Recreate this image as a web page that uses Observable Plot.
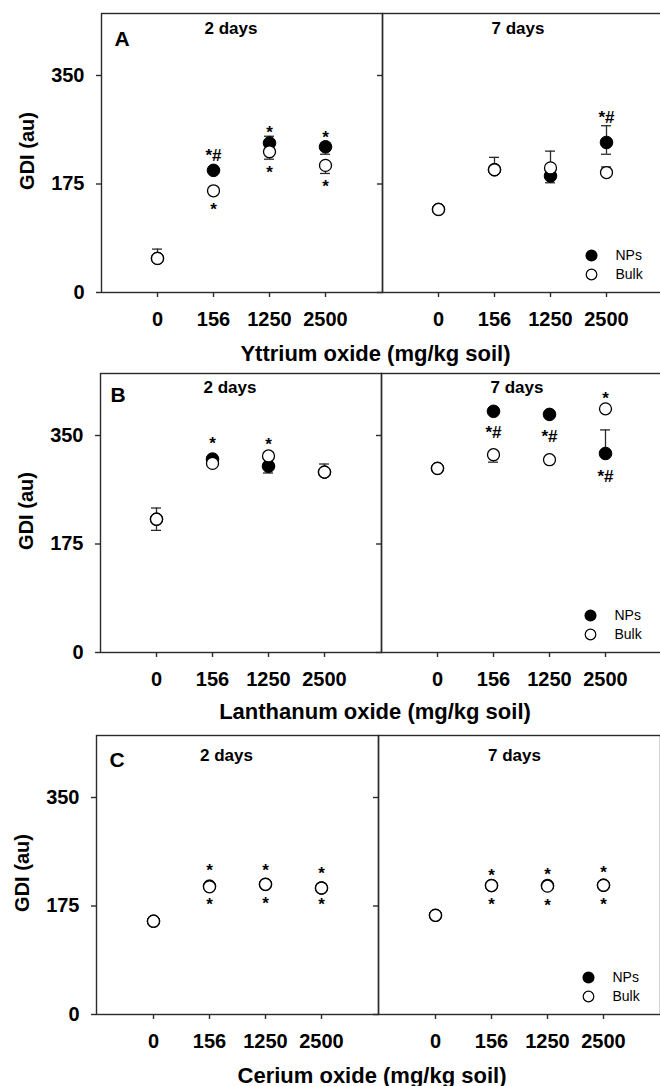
<!DOCTYPE html>
<html><head><meta charset="utf-8">
<script src="https://cdn.jsdelivr.net/npm/d3@7"></script>
<script src="https://cdn.jsdelivr.net/npm/@observablehq/plot@0.6"></script>
<style>
html,body{margin:0;padding:0;overflow:hidden;background:#fff;width:660px;height:1086px;position:relative;font-family:"Liberation Sans",Arial,sans-serif;}
.panel{position:absolute;left:0;}
.xtitle{position:absolute;text-align:center;font-weight:bold;font-size:22px;line-height:30px;color:#000;white-space:nowrap;}
</style></head><body>
<script>
// ---- categories / labels ----
const doses = ["0", "156", "1250", "2500"];
const days = ["2 days", "7 days"];
const series = ["NPs", "Bulk"];
const panelLetters = ["A", "B", "C"];
const xTitles = ["Yttrium oxide (mg/kg soil)", "Lanthanum oxide (mg/kg soil)", "Cerium oxide (mg/kg soil)"];
const yTicks = [0, 175, 350];
const yLabel = "GDI (au)";

// ---- Panel A: Yttrium oxide (GDI mean, error bars as [up, down]) ----
const A_NPs_2d = [55, 197, 241, 235];
const A_NPs_2d_err = [[0, 0], [0, 0], [11, 0], [0, 12]];
const A_Bulk_2d = [55, 164, 227, 205];
const A_Bulk_2d_err = [[15, 0], [0, 3], [0, 12], [0, 13]];
const A_NPs_7d = [134, 198, 188, 242];
const A_NPs_7d_err = [[0, 0], [0, 0], [0, 11], [27, 19]];
const A_Bulk_7d = [134, 198, 201, 193.5];
const A_Bulk_7d_err = [[0, 0], [20, 0], [27, 0], [9, 0]];
const A_notes = [
  ["2 days", "156", "*#", 227], ["2 days", "156", "*", 141],
  ["2 days", "1250", "*", 264], ["2 days", "1250", "*", 200],
  ["2 days", "2500", "*", 257], ["2 days", "2500", "*", 178],
  ["7 days", "2500", "*#", 289]
];

// ---- Panel B: Lanthanum oxide ----
const B_NPs_2d = [215, 312, 300.5, 291];
const B_NPs_2d_err = [[0, 0], [0, 0], [0, 11], [0, 0]];
const B_Bulk_2d = [215, 305, 317, 291];
const B_Bulk_2d_err = [[18, 18], [0, 0], [0, 0], [13, 0]];
const B_NPs_7d = [297, 389, 384, 321];
const B_NPs_7d_err = [[0, 0], [0, 0], [0, 0], [38, 0]];
const B_Bulk_7d = [297, 319, 311, 393];
const B_Bulk_7d_err = [[0, 0], [0, 12], [0, 0], [0, 0]];
const B_notes = [
  ["2 days", "156", "*", 344], ["2 days", "1250", "*", 342],
  ["7 days", "156", "*#", 361], ["7 days", "1250", "*#", 355],
  ["7 days", "2500", "*", 416], ["7 days", "2500", "*#", 291]
];

// ---- Panel C: Cerium oxide ----
const C_NPs_2d = [150.5, 207, 210, 204];
const C_NPs_2d_err = [[0, 0], [0, 0], [0, 0], [0, 0]];
const C_Bulk_2d = [150.5, 206, 210, 204];
const C_Bulk_2d_err = [[0, 0], [0, 0], [0, 0], [0, 0]];
const C_NPs_7d = [160, 208, 208, 208.5];
const C_NPs_7d_err = [[0, 0], [0, 0], [0, 0], [0, 0]];
const C_Bulk_7d = [160, 208, 207, 208.5];
const C_Bulk_7d_err = [[0, 0], [0, 0], [0, 0], [0, 0]];
const C_notes = [
  ["2 days", "156", "*", 239], ["2 days", "156", "*", 183],
  ["2 days", "1250", "*", 238], ["2 days", "1250", "*", 186],
  ["2 days", "2500", "*", 233], ["2 days", "2500", "*", 184],
  ["7 days", "156", "*", 231], ["7 days", "156", "*", 183],
  ["7 days", "1250", "*", 232], ["7 days", "1250", "*", 182],
  ["7 days", "2500", "*", 235], ["7 days", "2500", "*", 184]
];

function rows(day, name, vals, errs) {
  return vals.map((v, j) => ({day, dose: doses[j], series: name, value: v, up: errs[j][0], dn: errs[j][1]}));
}

const panels = [
  {data: [rows(days[0], series[0], A_NPs_2d, A_NPs_2d_err), rows(days[0], series[1], A_Bulk_2d, A_Bulk_2d_err),
          rows(days[1], series[0], A_NPs_7d, A_NPs_7d_err), rows(days[1], series[1], A_Bulk_7d, A_Bulk_7d_err)],
   notes: A_notes, top: 0, width: 663, ml: 100, dayDy: 15, letDx: 13, letDy: 26, titleC: 354},
  {data: [rows(days[0], series[0], B_NPs_2d, B_NPs_2d_err), rows(days[0], series[1], B_Bulk_2d, B_Bulk_2d_err),
          rows(days[1], series[0], B_NPs_7d, B_NPs_7d_err), rows(days[1], series[1], B_Bulk_7d, B_Bulk_7d_err)],
   notes: B_notes, top: 360, width: 662, ml: 100, dayDy: 14, letDx: 10, letDy: 21.5, titleC: 711.5},
  {data: [rows(days[0], series[0], C_NPs_2d, C_NPs_2d_err), rows(days[0], series[1], C_Bulk_2d, C_Bulk_2d_err),
          rows(days[1], series[0], C_NPs_7d, C_NPs_7d_err), rows(days[1], series[1], C_Bulk_7d, C_Bulk_7d_err)],
   notes: C_notes, top: 722, width: 660, ml: 96, dayDy: 20, letDx: 13, letDy: 25, titleC: 1076}
];

const ink = "#2a2a2a";

panels.forEach((p, i) => {
  const all = p.data.flat();
  const nps = all.filter(d => d.series === series[0]);
  const bulk = all.filter(d => d.series === series[1]);
  const errs = all.filter(d => d.up > 0 || d.dn > 0).map(d => ({...d, lo: d.value - d.dn, hi: d.value + d.up}));
  const caps = all.flatMap(d => [
    ...(d.up > 0 ? [{day: d.day, dose: d.dose, y: d.value + d.up}] : []),
    ...(d.dn > 0 ? [{day: d.day, dose: d.dose, y: d.value - d.dn}] : [])
  ]);
  const notes = p.notes.map(([day, dose, text, y]) => ({day, dose, text, y}));

  const chart = Plot.plot({
    width: p.width, height: 335,
    marginTop: 13, marginBottom: 43, marginLeft: p.ml, marginRight: 0,
    style: {fontFamily: '"Liberation Sans", Arial, sans-serif', fontSize: "20px", fontWeight: "bold", color: "#000", maxWidth: "none", overflow: "visible"},
    fx: {domain: days, padding: 0, axis: null, label: null},
    x: {type: "band", domain: doses, paddingInner: 0.82, paddingOuter: 0.91},
    y: {domain: [0, 450]},
    marks: [
      Plot.frame({stroke: ink, strokeWidth: 1.4}),
      Plot.axisX({tickSize: 5, tickPadding: 14, label: null, stroke: ink, strokeWidth: 1.4, fontSize: 20, fontWeight: "bold", fill: "#000"}),
      Plot.axisY({ticks: yTicks, tickSize: 5, tickFormat: () => "", label: null, facetAnchor: null, stroke: ink, strokeWidth: 1.4}),
      Plot.axisY({ticks: yTicks, tickSize: 0, tickPadding: 17, label: null, fontSize: 20, fontWeight: "bold", fill: "#000"}),
      Plot.ruleX(errs, {fx: "day", x: "dose", y1: "lo", y2: "hi", stroke: ink, strokeWidth: 1.3}),
      Plot.tickY(caps, {fx: "day", x: "dose", y: "y", stroke: ink, strokeWidth: 1.3}),
      Plot.dot(nps, {fx: "day", x: "dose", y: "value", r: 6.3, fill: "#000", stroke: "#000", strokeWidth: 1}),
      Plot.dot(bulk, {fx: "day", x: "dose", y: "value", r: 6, fill: "#fff", stroke: "#000", strokeWidth: 1.3}),
      Plot.text(notes, {fx: "day", x: "dose", y: "y", text: "text", fontSize: 17, fontWeight: "bold", lineAnchor: "middle", dy: 4}),
      Plot.text([{day: days[0]}], {fx: "day", text: "day", frameAnchor: "top", lineAnchor: "middle", dx: -11, dy: p.dayDy, fontSize: 17, fontWeight: "bold"}),
      Plot.text([{day: days[1]}], {fx: "day", text: "day", frameAnchor: "top", lineAnchor: "middle", dx: -5, dy: p.dayDy, fontSize: 17, fontWeight: "bold"}),
      Plot.text([{day: days[0], t: panelLetters[i]}], {fx: "day", text: "t", frameAnchor: "top-left", textAnchor: "start", lineAnchor: "middle", dx: p.letDx, dy: p.letDy, fontSize: 21, fontWeight: "bold"}),
      Plot.text([{day: days[0], t: yLabel}], {fx: "day", text: "t", frameAnchor: "left", textAnchor: "middle", lineAnchor: "middle", rotate: -90, dx: -74, dy: -2, fontSize: 20, fontWeight: "bold"}),
      Plot.dot([{day: days[1]}], {fx: "day", frameAnchor: "bottom-right", dx: -72, dy: -37, r: 5.3, fill: "#000", stroke: "#000"}),
      Plot.dot([{day: days[1]}], {fx: "day", frameAnchor: "bottom-right", dx: -72, dy: -18, r: 5.3, fill: "#fff", stroke: "#000", strokeWidth: 1.2}),
      Plot.text([{day: days[1], t: series[0]}], {fx: "day", text: "t", frameAnchor: "bottom-right", textAnchor: "start", lineAnchor: "middle", dx: -48, dy: -37, fontSize: 14, fontWeight: "normal"}),
      Plot.text([{day: days[1], t: series[1]}], {fx: "day", text: "t", frameAnchor: "bottom-right", textAnchor: "start", lineAnchor: "middle", dx: -48, dy: -18, fontSize: 14, fontWeight: "normal"})
    ]
  });
  const wrap = document.createElement("div");
  wrap.className = "panel";
  wrap.style.top = p.top + "px";
  wrap.appendChild(chart);
  document.body.appendChild(wrap);

  const t = document.createElement("div");
  t.className = "xtitle";
  t.textContent = xTitles[i];
  t.style.left = (p.ml - 6) + "px";
  t.style.width = (p.width - p.ml) + "px";
  t.style.top = (p.titleC - 15) + "px";
  document.body.appendChild(t);
});
</script>
</body></html>
